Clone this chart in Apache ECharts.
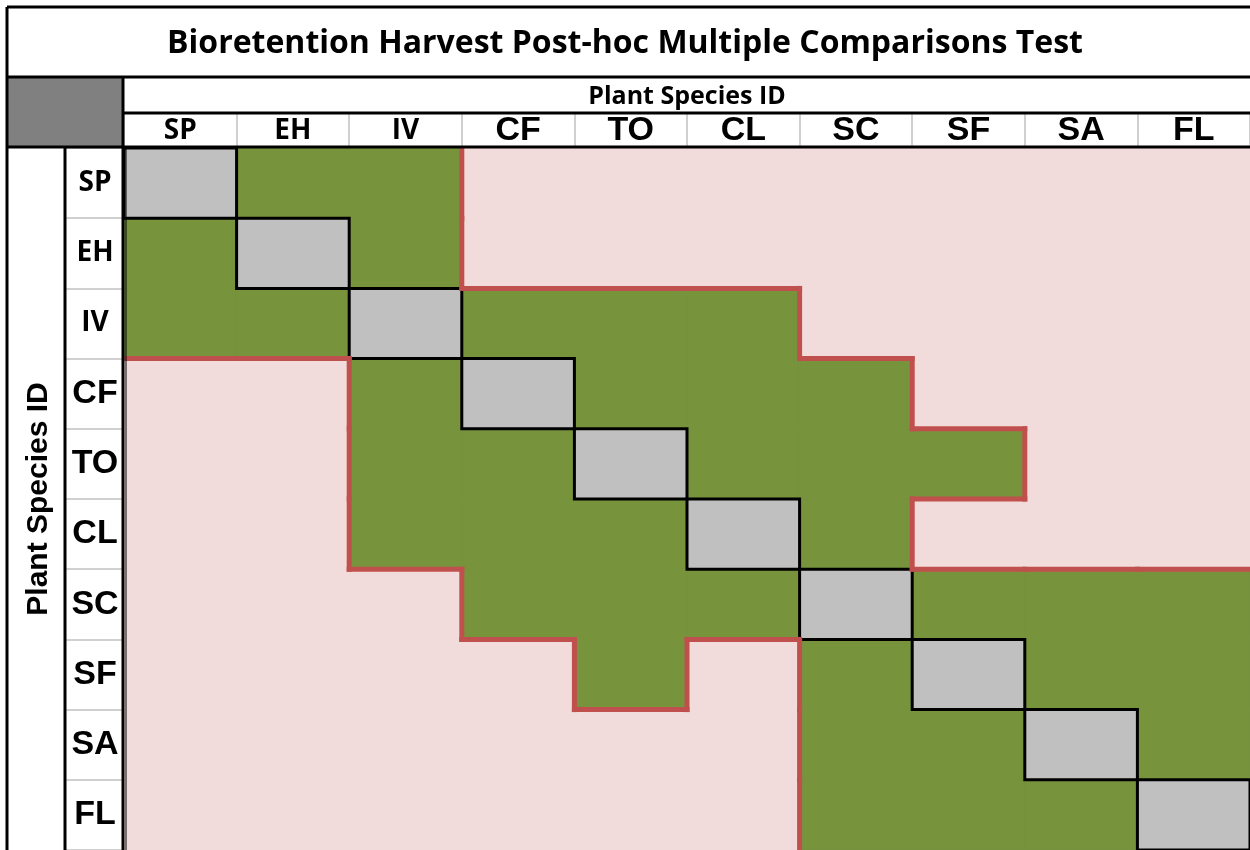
<!DOCTYPE html>
<html>
<head>
<meta charset="utf-8">
<title>Bioretention Harvest Post-hoc Multiple Comparisons Test</title>
<script src="https://cdn.jsdelivr.net/npm/echarts@6/dist/echarts.min.js"></script>
<style>
  html, body { margin: 0; padding: 0; background: #fff; }
  #chart { width: 1250px; height: 850px; }
</style>
</head>
<body>
<div id="chart"></div>
<script>
// species, same order on both axes
const species = ['SP', 'EH', 'IV', 'CF', 'TO', 'CL', 'SC', 'SF', 'SA', 'FL'];
// labels written in the narrower (Calibri-like) font in the original
const narrowLabels = ['SP', 'EH', 'IV'];

// 0 = significantly different (pink), 1 = not significant (green), 2 = same species (grey)
const rowSP = [2, 1, 1, 0, 0, 0, 0, 0, 0, 0];
const rowEH = [1, 2, 1, 0, 0, 0, 0, 0, 0, 0];
const rowIV = [1, 1, 2, 1, 1, 1, 0, 0, 0, 0];
const rowCF = [0, 0, 1, 2, 1, 1, 1, 0, 0, 0];
const rowTO = [0, 0, 1, 1, 2, 1, 1, 1, 0, 0];
const rowCL = [0, 0, 1, 1, 1, 2, 1, 0, 0, 0];
const rowSC = [0, 0, 0, 1, 1, 1, 2, 1, 1, 1];
const rowSF = [0, 0, 0, 0, 1, 0, 1, 2, 1, 1];
const rowSA = [0, 0, 0, 0, 0, 0, 1, 1, 2, 1];
const rowFL = [0, 0, 0, 0, 0, 0, 1, 1, 1, 2];
const results = [rowSP, rowEH, rowIV, rowCF, rowTO, rowCL, rowSC, rowSF, rowSA, rowFL];

const cellColors = ['#f2dcdb', '#77933c', '#c0c0c0'];

// cells as [col, row, value]
const cells = [];
results.forEach((row, r) => row.forEach((v, c) => cells.push([c, r, v])));

// red group boundaries: between a pink and a green cell
// [col, row, 0] = right edge of the cell, [col, row, 1] = bottom edge
const isEdge = (a, b) => a !== 2 && b !== 2 && a !== b;
const edges = [];
results.forEach((row, r) => {
  row.forEach((v, c) => {
    if (c < row.length - 1 && isEdge(v, row[c + 1])) edges.push([c, r, 0]);
    if (r < results.length - 1 && isEdge(v, results[r + 1][c])) edges.push([c, r, 1]);
  });
});

const diagonal = species.map((s, i) => [i, i]);

function cellBox(api, c, r) {
  const p = api.coord([c, r]);
  const s = api.size([1, 1]);
  const w = Math.abs(s[0]), h = Math.abs(s[1]);
  return { x: p[0] - w / 2, y: p[1] - h / 2, width: w, height: h };
}

const labelFmt = v => (narrowLabels.includes(v) ? '{n|' + v + '}' : '{a|' + v + '}');

const chart = echarts.init(document.getElementById('chart'));

const line = (x1, y1, x2, y2, w, color) => ({
  type: 'line',
  shape: { x1, y1, x2, y2 },
  style: { stroke: color || '#000', lineWidth: w },
  z: 100
});

chart.setOption({
  backgroundColor: '#fff',
  animation: false,
  title: {
    text: 'Bioretention Harvest Post-hoc Multiple Comparisons Test',
    left: 'center',
    top: 23,
    textStyle: { fontFamily: 'Open Sans', fontWeight: 'bold', fontSize: 32, color: '#000' }
  },
  grid: { left: 124, top: 148, width: 1128, height: 704 },
  xAxis: {
    type: 'category',
    position: 'top',
    data: species,
    name: 'Plant Species ID',
    nameLocation: 'middle',
    nameGap: 38,
    nameTextStyle: { fontFamily: 'Open Sans', fontWeight: 'bold', fontSize: 25, color: '#000' },
    axisLine: { show: false },
    axisTick: { show: true, length: 34, lineStyle: { color: '#d0d0d0', width: 2 } },
    axisLabel: {
      interval: 0,
      margin: 17,
      verticalAlign: 'middle',
      formatter: labelFmt,
      rich: {
        n: { fontFamily: 'Open Sans', fontWeight: 'bold', fontSize: 28, color: '#000' },
        a: { fontFamily: 'Liberation Sans', fontWeight: 'bold', fontSize: 34, color: '#000' }
      }
    },
    splitLine: { show: false }
  },
  yAxis: {
    type: 'category',
    inverse: true,
    data: species,
    name: 'Plant Species ID',
    nameLocation: 'middle',
    nameRotate: 90,
    nameGap: 70,
    nameTextStyle: { fontFamily: 'Liberation Sans', fontWeight: 'bold', fontSize: 30, color: '#000' },
    axisLine: { show: false },
    axisTick: { show: true, length: 58, lineStyle: { color: '#d0d0d0', width: 2 } },
    axisLabel: {
      interval: 0,
      margin: 29,
      align: 'center',
      verticalAlign: 'middle',
      formatter: labelFmt,
      rich: {
        n: { fontFamily: 'Open Sans', fontWeight: 'bold', fontSize: 28, color: '#000' },
        a: { fontFamily: 'Liberation Sans', fontWeight: 'bold', fontSize: 34, color: '#000' }
      }
    },
    splitLine: { show: false }
  },
  series: [
    {
      type: 'custom',
      name: 'cells',
      data: cells,
      z: 1,
      renderItem: (params, api) => ({
        type: 'rect',
        shape: cellBox(api, api.value(0), api.value(1)),
        style: { fill: cellColors[api.value(2)], stroke: cellColors[api.value(2)], lineWidth: 1.5 }
      })
    },
    {
      type: 'custom',
      name: 'diagonal',
      data: diagonal,
      z: 2,
      renderItem: (params, api) => ({
        type: 'rect',
        shape: cellBox(api, api.value(0), api.value(1)),
        style: { fill: null, stroke: '#000', lineWidth: 3 }
      })
    },
    {
      type: 'custom',
      name: 'groups',
      data: edges,
      z: 3,
      clip: true,
      renderItem: (params, api) => {
        const b = cellBox(api, api.value(0), api.value(1));
        const shape = api.value(2) === 0
          ? { x1: b.x + b.width, y1: b.y, x2: b.x + b.width, y2: b.y + b.height }
          : { x1: b.x, y1: b.y + b.height, x2: b.x + b.width, y2: b.y + b.height };
        return {
          type: 'line',
          shape,
          style: { stroke: '#c0504d', lineWidth: 5, lineCap: 'square' }
        };
      }
    }
  ],
  graphic: [
    { type: 'rect', shape: { x: 7, y: 77, width: 116, height: 71 }, style: { fill: '#808080' }, z: 99 },
    line(7, 7, 1250, 7, 3),
    line(7, 7, 7, 850, 3),
    line(7, 77, 1250, 77, 3),
    line(123, 113, 1250, 113, 3),
    line(7, 147, 1250, 147, 3),
    line(123, 77, 123, 850, 3),
    line(126, 148, 126, 850, 1),
    line(65, 147, 65, 850, 3)
  ]
});
</script>
</body>
</html>
